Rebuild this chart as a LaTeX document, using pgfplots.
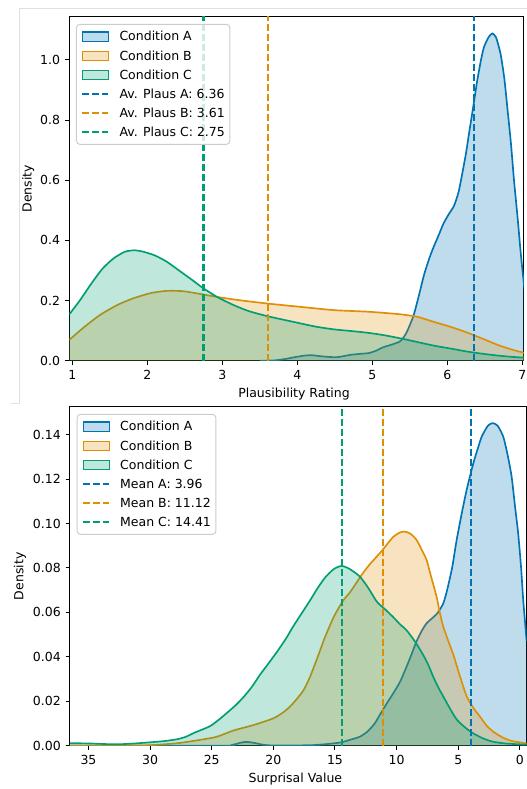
\documentclass[border=0pt]{standalone}
\usepackage{fontspec}
\setmainfont{DejaVu Sans}
\usepackage{pgfplots}
\usepackage{pgfplotstable}
\pgfplotsset{compat=1.18}
\definecolor{cA}{HTML}{0173B2}
\definecolor{cB}{HTML}{DE8F05}
\definecolor{cC}{HTML}{029E73}

\pgfplotstableread{
x y
3.5 0
3.7 0.001
3.85 0.006
3.95 0.011
4.1 0.017
4.2 0.018
4.3 0.015
4.45 0.012
4.55 0.012
4.7 0.019
4.85 0.023
4.95 0.025
5.05 0.033
5.15 0.045
5.28 0.055
5.38 0.066
5.46 0.095
5.55 0.150
5.62 0.215
5.69 0.285
5.76 0.34
5.82 0.379
5.89 0.42
5.95 0.456
6.02 0.487
6.09 0.515
6.15 0.56
6.20 0.622
6.25 0.69
6.29 0.755
6.35 0.85
6.40 0.932
6.45 1.0
6.49 1.043
6.55 1.075
6.60 1.088
6.65 1.075
6.71 1.021
6.76 0.94
6.80 0.844
6.85 0.72
6.89 0.60
6.94 0.47
6.98 0.357
7.02 0.26
7.05 0.21
}\topA

\pgfplotstableread{
x y
0.96 0.069
1.15 0.11
1.37 0.152
1.6 0.185
1.81 0.207
2.05 0.225
2.26 0.232
2.48 0.231
2.7 0.222
2.93 0.212
3.2 0.202
3.6 0.190
4.04 0.179
4.49 0.168
4.93 0.163
5.2 0.158
5.38 0.154
5.6 0.146
5.82 0.129
6.05 0.112
6.27 0.093
6.5 0.07
6.71 0.049
6.9 0.034
7.03 0.026
}\topB

\pgfplotstableread{
x y
0.96 0.154
1.1 0.2
1.25 0.255
1.4 0.305
1.55 0.34
1.7 0.362
1.83 0.367
1.95 0.362
2.1 0.35
2.26 0.329
2.45 0.295
2.6 0.268
2.74 0.242
2.93 0.212
3.15 0.185
3.35 0.165
3.6 0.148
3.8 0.137
4.04 0.124
4.25 0.113
4.49 0.104
4.7 0.099
4.93 0.093
5.15 0.085
5.38 0.074
5.6 0.062
5.82 0.050
6.05 0.040
6.27 0.030
6.5 0.022
6.71 0.016
6.9 0.012
7.03 0.010
}\topC

\pgfplotstableread{
x y
36.5 0
24 0
23.3 0.0004
22.6 0.0014
22.2 0.0017
21.6 0.0013
20.8 0.0004
20 0.0001
17 0.0002
15.5 0.0008
14.5 0.0015
13.8 0.0026
13 0.0040
12.4 0.0062
11.8 0.0098
11.35 0.0140
10.8 0.019
10.27 0.0236
9.7 0.029
9.19 0.0356
8.8 0.041
8.38 0.0470
7.95 0.0518
7.57 0.0551
7.15 0.0572
6.76 0.0592
6.5 0.0612
6.22 0.0640
5.95 0.0690
5.5 0.0800
5.13 0.0926
4.7 0.105
4.32 0.1151
3.78 0.1271
3.4 0.134
3.1 0.1391
2.6 0.1440
2.21 0.1452
1.8 0.1440
1.35 0.1391
1.0 0.131
0.67 0.1211
0.4 0.108
0.14 0.0956
-0.1 0.08
-0.27 0.0656
-0.55 0.047
}\botA

\pgfplotstableread{
x y
36.5 0
31 0.0001
30 0.0002
27.8 0.0011
25.95 0.0026
24.6 0.004
23.25 0.0068
21.6 0.0093
20 0.0123
19.2 0.015
18.65 0.0176
18.1 0.021
17.55 0.025
17.1 0.030
16.7 0.0356
16.3 0.0415
15.9 0.0476
15.5 0.053
15.1 0.058
14.7 0.062
14.3 0.0656
13.79 0.0690
13.3 0.0730
12.8 0.0772
12.2 0.0815
11.6 0.0852
11.14 0.0881
10.7 0.0912
10.27 0.0940
9.8 0.0958
9.4 0.0964
8.9 0.0955
8.38 0.0926
7.95 0.088
7.57 0.0836
7.2 0.076
6.76 0.0671
6.5 0.060
6.22 0.0536
5.8 0.047
5.4 0.0410
4.85 0.031
4.3 0.022
3.75 0.0168
3.24 0.0131
2.7 0.009
2.16 0.0063
1.6 0.0043
1.08 0.0029
0.5 0.0019
0 0.0015
-0.55 0.0009
}\botB

\pgfplotstableread{
x y
36.5 0.0011
35 0.0010
33.5 0.0007
32.7 0.0006
31.5 0.0009
30 0.0015
28.8 0.0021
27.8 0.0029
27.1 0.004
26.5 0.0056
25.8 0.0072
25.1 0.0089
24.4 0.0118
23.8 0.0146
23.1 0.018
22.4 0.022
21.7 0.0268
21.1 0.0318
20.4 0.037
19.7 0.0423
19.0 0.048
18.4 0.0536
17.7 0.0596
17.0 0.0656
16.4 0.071
15.8 0.0757
15.1 0.0795
14.46 0.0809
13.8 0.0795
12.98 0.0761
12.3 0.071
11.6 0.0648
10.9 0.0612
10.3 0.058
9.7 0.0545
9.2 0.052
8.5 0.0468
7.84 0.0408
7.4 0.036
7.03 0.031
6.6 0.026
6.2 0.022
5.6 0.016
5.1 0.0116
4.4 0.008
3.8 0.0056
3.0 0.0033
2.2 0.0018
1.2 0.001
0 0.0006
-0.55 0.0005
}\botC

\pgfplotsset{
  base/.style={
    scale only axis,
    font=\fontsize{9}{11}\selectfont,
    axis line style={line width=0.72pt, black},
    every tick/.style={black, line width=0.72pt},
    major tick length=3.15pt,
    tick align=outside,
    xtick pos=bottom, ytick pos=left,
    /pgf/number format/assume math mode=true,
    ticklabel style={font=\fontsize{9}{11}\selectfont},
    scaled y ticks=false,
    ymin=0,
    legend cell align=left,
    legend style={
      at={(rel axis cs:0,1)}, xshift=4.8pt, yshift=-5pt, anchor=north west,
      draw=black!20, line width=0.7pt, rounded corners=2.5pt,
      fill=white, fill opacity=0.8, text opacity=1,
      inner sep=3.6pt, row sep=3.28pt, column sep=7.2pt,
      font=\fontsize{9}{11}\selectfont,
      nodes={inner sep=0pt, text height=8.35pt, text depth=2.12pt, anchor=west},
    },
  },
  fillA/.style={draw=none, fill=cA, fill opacity=0.25, area legend, smooth, tension=0.4,
    legend image code/.code={\draw[sharp corners, fill=cA!25, draw=cA, line width=0.8pt, fill opacity=1, draw opacity=1] (0pt,-3.3pt) rectangle (18.7pt,3.3pt);}},
  fillB/.style={draw=none, fill=cB, fill opacity=0.25, area legend, smooth, tension=0.4,
    legend image code/.code={\draw[sharp corners, fill=cB!25, draw=cB, line width=0.8pt, fill opacity=1, draw opacity=1] (0pt,-3.3pt) rectangle (18.7pt,3.3pt);}},
  fillC/.style={draw=none, fill=cC, fill opacity=0.25, area legend, smooth, tension=0.4,
    legend image code/.code={\draw[sharp corners, fill=cC!25, draw=cC, line width=0.8pt, fill opacity=1, draw opacity=1] (0pt,-3.3pt) rectangle (18.7pt,3.3pt);}},
  curve/.style={#1, line width=1.2pt, smooth, tension=0.4, forget plot},
  meanline/.style={draw=#1, line width=1.5pt, dash pattern=on 5pt off 2.2pt, draw opacity=1,
    legend image code/.code={\draw[sharp corners, draw opacity=1, ##1] (0pt,0pt) -- (18.7pt,0pt);}},
}

\begin{document}
\begin{tikzpicture}
\path[use as bounding box] (0,0) rectangle (379.44pt,568.08pt);
\draw[black!12, line width=0.7pt] (7.9pt,277.6pt) -- (13.9pt,277.6pt) -- (13.9pt,562.1pt) -- (379.44pt,562.1pt);

% ---------- top panel ----------
\begin{axis}[base,
  at={(49.9pt,308.4pt)}, anchor=south west,
  width=327.2pt, height=247.5pt,
  xmin=0.96, xmax=7.02, ymax=1.143,
  xtick={1,2,3,4,5,6,7},
  ytick={0,0.2,0.4,0.6,0.8,1.0},
  yticklabel style={/pgf/number format/.cd, fixed, fixed zerofill, precision=1},
  xlabel={Plausibility Rating}, ylabel={Density},
  xlabel style={at={(axis description cs:0.4945,-0.0978)}, anchor=center},
  ylabel style={at={(axis description cs:-0.0905,0.5)}, anchor=center},
]
\addplot[fillA] table {\topA} \closedcycle;
\addlegendentry{Condition A}
\addplot[curve=cA] table {\topA};
\addplot[fillB] table {\topB} \closedcycle;
\addlegendentry{Condition B}
\addplot[curve=cB] table {\topB};
\addplot[fillC] table {\topC} \closedcycle;
\addlegendentry{Condition C}
\addplot[curve=cC] table {\topC};
\addplot[meanline=cA] coordinates {(6.36,0) (6.36,1.2)};
\addlegendentry{Av. Plaus A: 6.36}
\addplot[meanline=cB] coordinates {(3.61,0) (3.61,1.2)};
\addlegendentry{Av. Plaus B: 3.61}
\addplot[meanline=cC] coordinates {(2.75,0) (2.75,1.2)};
\addlegendentry{Av. Plaus C: 2.75}
\end{axis}

% ---------- bottom panel ----------
\begin{axis}[base,
  at={(50.4pt,31.2pt)}, anchor=south west,
  width=328.8pt, height=243.9pt,
  x dir=reverse,
  xmin=-0.55, xmax=36.5, ymax=0.1525,
  xtick={0,5,10,15,20,25,30,35},
  ytick={0,0.02,0.04,0.06,0.08,0.10,0.12,0.14},
  yticklabel style={/pgf/number format/.cd, fixed, fixed zerofill, precision=2},
  xlabel={Surprisal Value}, ylabel={Density},
  xlabel style={at={(axis description cs:0.4935,-0.0983)}, anchor=center},
  ylabel style={at={(axis description cs:-0.1095,0.5)}, anchor=center},
]
\addplot[fillA] table {\botA} \closedcycle;
\addlegendentry{Condition A}
\addplot[curve=cA] table {\botA};
\addplot[fillB] table {\botB} \closedcycle;
\addlegendentry{Condition B}
\addplot[curve=cB] table {\botB};
\addplot[fillC] table {\botC} \closedcycle;
\addlegendentry{Condition C}
\addplot[curve=cC] table {\botC};
\addplot[meanline=cA] coordinates {(3.96,0) (3.96,0.2)};
\addlegendentry{Mean A: 3.96}
\addplot[meanline=cB] coordinates {(11.12,0) (11.12,0.2)};
\addlegendentry{Mean B: 11.12}
\addplot[meanline=cC] coordinates {(14.41,0) (14.41,0.2)};
\addlegendentry{Mean C: 14.41}
\end{axis}
\end{tikzpicture}
\end{document}
